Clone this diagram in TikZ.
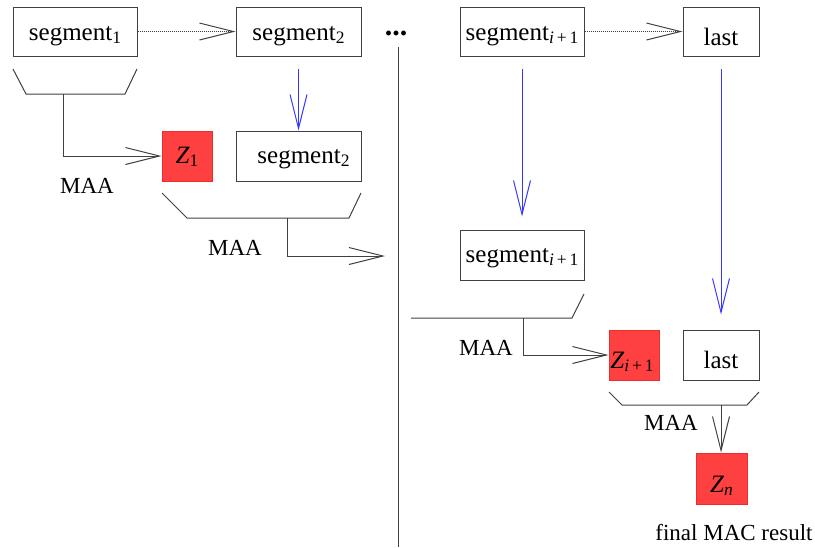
\documentclass[tikz,border=0pt]{standalone}
\usepackage{fontspec}
\setmainfont{Liberation Serif}
\usetikzlibrary{arrows.meta,calc}
\definecolor{boxline}{gray}{0.25}
\definecolor{myblue}{RGB}{55,55,255}
\definecolor{myred}{RGB}{255,64,64}
\definecolor{myredline}{RGB}{235,45,45}
\newcommand\mysb[1]{\raisebox{-3pt}{\fontsize{17.5}{20}\selectfont #1}}
\tikzset{
  box/.style={draw=boxline, line width=1pt, minimum height=49pt, inner sep=0pt, font=\fontsize{25}{30}\selectfont},
  zbox/.style={draw=myredline, fill=myred, line width=1pt, minimum width=50pt, minimum height=50pt, inner sep=0pt, font=\fontsize{25}{30}\selectfont},
  lbl/.style={font=\fontsize{23}{28}\selectfont, inner sep=0pt},
  conn/.style={draw=boxline, line width=1pt},
  barb/.style={-{Straight Barb[length=34pt,width=17pt]}},
  blue arrow/.style={draw=myblue, line width=1pt, barb},
}
\begin{document}
\begin{tikzpicture}[x=1pt,y=-1pt]
\useasboundingbox (0,0) rectangle (815,547);
% top row
\node[box, minimum width=124pt, text height=18pt, text depth=0pt] (seg1) at (75,31.5) {segment\mysb{1}\hspace{4pt}};
\node[box, minimum width=125pt, text height=18pt, text depth=0pt] (seg2a) at (298.5,31.5) {segment\mysb{2}};
\node[font=\fontsize{30}{30}\selectfont\bfseries, inner sep=0pt, anchor=base] (dots) at (396,35) {...};
\node[box, minimum width=124pt, text height=18pt, text depth=0pt] (segi) at (522,31.5) {segment\mysb{\textit{i}\,+\,1}};
\node[box, minimum width=76pt, text height=27pt, text depth=0pt] (last1) at (721,31.5) {last};
% second level
\node[zbox, text height=14pt, text depth=0pt] (z1) at (187,156) {\textit{Z}\mysb{1}};
\node[box, minimum width=125pt, minimum height=50pt, text height=14pt, text depth=0pt] (seg2b) at (298.5,156) {\hspace{10pt}segment\mysb{2}};
\node[box, minimum width=124pt, minimum height=50pt, text height=14pt, text depth=0pt] (segib) at (522,255) {segment\mysb{\textit{i}\,+\,1}};
\node[zbox, text height=26pt, text depth=0pt] (zi) at (634,355) {\hspace{-4pt}\textit{Z}\mysb{\textit{i}\,+\,1}};
\node[box, minimum width=76pt, minimum height=50pt, text height=26pt, text depth=0pt] (last2) at (721,355) {last};
\node[zbox, minimum width=51pt, minimum height=51pt, text height=28pt, text depth=0pt] (zn) at (721.5,478.5) {\textit{Z}\mysb{\textit{n}}};
% labels
\node[lbl] (maa1) at (87,186) {MAA};
\node[lbl] (maa2) at (235,248) {MAA};
\node[lbl] (maa3) at (486,348) {MAA};
\node[lbl] (maa4) at (671,423) {MAA};
\node[lbl] (final) at (734,533) {final MAC result};
% vertical separator
\coordinate (vtop) at (398,47);
\coordinate (vbot) at (398,547);
\draw[conn] (vtop) -- (vbot);
% dotted arrows
\draw[conn, densely dotted, barb] (seg1.east) -- (seg2a.west);
\draw[conn, densely dotted, barb] (segi.east) -- (last1.west);
% brackets
\draw[conn] (13,69) -- (26,94) -- (125,94) -- (137,69);
\coordinate (b1) at (63,94);
\draw[conn, barb] (b1) |- (z1.west);
\draw[conn] (162,193) -- (187,218) -- (349,218) -- (361,193);
\coordinate (b2) at (287,218);
\coordinate (e2) at (385,256);
\draw[conn, barb] (b2) |- (e2);
\draw[conn] (411,318) -- (572,318) -- (584,294);
\coordinate (b3) at (523,318);
\draw[conn, barb] (b3) |- (zi.west);
\draw[conn] (609,392) -- (622,405) -- (747,405) -- (759,392);
\coordinate (b4) at (721,405);
\draw[conn, barb] (b4) -- (b4 |- zn.north);
% blue arrows
\coordinate (s2) at (298.5,69);
\draw[blue arrow] (s2) -- (seg2b.north);
\coordinate (si) at (522,69);
\draw[blue arrow, shorten >=13pt] (si) -- (segib.north);
\coordinate (sl) at (721,69);
\draw[blue arrow, shorten >=15pt] (sl) -- (last2.north);
\end{tikzpicture}
\end{document}
